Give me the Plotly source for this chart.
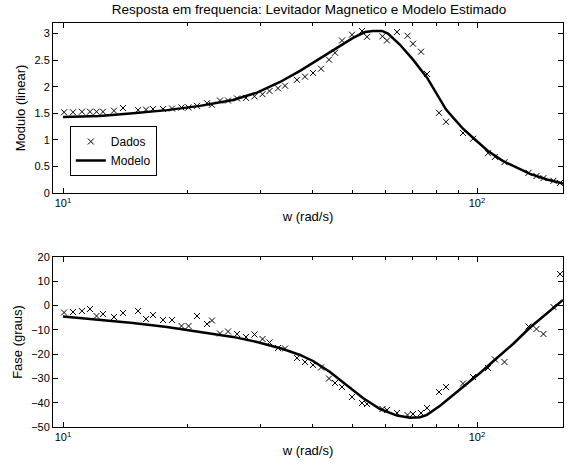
import plotly.graph_objects as go

# Frequencies of the measured points (rad/s)
w_dados = [10.06, 10.57, 11.11, 11.62, 12.05, 12.49, 13.28, 13.96, 15.18, 15.87,
           16.50, 17.44, 18.34, 19.33, 20.10, 21.07, 22.28, 22.90, 23.94, 25.04,
           26.33, 27.67, 29.01, 30.33, 31.54, 33.06, 34.38, 36.74, 38.41, 40.17,
           42.00, 43.91, 45.40, 47.20, 49.90, 52.76, 54.25, 59.11, 60.61, 64.10,
           67.94, 70.05, 73.24, 75.73, 80.95, 84.17, 92.52, 97.80, 106.3, 110.5,
           116.5, 133.2, 139.2, 144.7, 153.0, 158.7]

mod_dados = [1.52, 1.52, 1.53, 1.53, 1.53, 1.53, 1.55, 1.60, 1.56, 1.57,
             1.58, 1.58, 1.59, 1.61, 1.61, 1.64, 1.69, 1.66, 1.74, 1.74,
             1.78, 1.79, 1.82, 1.86, 1.92, 1.97, 2.02, 2.13, 2.19, 2.26,
             2.34, 2.51, 2.64, 2.87, 2.98, 3.05, 2.94, 2.95, 2.87, 3.03,
             2.96, 2.81, 2.66, 2.24, 1.51, 1.34, 1.13, 1.02, 0.75, 0.68,
             0.58, 0.38, 0.32, 0.28, 0.23, 0.19]

fase_dados = [-2.85, -2.65, -2.24, -1.41, -4.29, -3.47, -4.71, -3.06, -2.24, -5.53,
              -3.88, -5.94, -5.94, -8.41, -8.41, -4.29, -7.59, -6.15, -11.50, -10.68,
              -11.71, -12.94, -11.91, -13.76, -15.21, -17.47, -17.68, -21.59, -23.24, -24.47,
              -25.50, -30.03, -31.88, -33.53, -37.65, -40.12, -40.53, -42.59, -43.00, -44.24,
              -45.06, -44.65, -44.24, -42.18, -35.59, -33.53, -32.09, -29.41, -25.71, -22.21,
              -23.24, -8.62, -9.65, -11.71, -0.59, 13.0]

# Estimated model
w_mod_mag = [10.0, 12.28, 14.76, 17.83, 21.42, 25.74, 29.42, 33.44, 37.36, 41.77,
             45.90, 50.18, 53.63, 56.07, 58.94, 60.95, 65.17, 70.05, 75.73, 80.0,
             84.2, 88.0, 92.52, 97.80, 106.3, 115.6, 134.3, 147.6, 161.3]
mod_modelo = [1.43, 1.45, 1.50, 1.56, 1.64, 1.75, 1.89, 2.09, 2.30, 2.53,
              2.74, 2.92, 3.03, 3.05, 3.05, 3.00, 2.79, 2.51, 2.17, 1.85,
              1.57, 1.40, 1.21, 1.04, 0.79, 0.60, 0.36, 0.255, 0.18]

w_mod_fase = [10.0, 12.28, 14.76, 17.83, 21.42, 25.74, 29.42, 34.0, 37.36, 40.17,
              44.15, 48.53, 53.03, 58.32, 64.10, 68.90, 72.84, 75.70, 78.31, 81.40,
              84.64, 92.52, 101.7, 111.7, 122.2, 134.3, 147.6, 161.3]
fase_modelo = [-4.50, -5.94, -7.18, -8.82, -10.88, -12.90, -15.00, -17.90, -20.35, -22.82,
               -27.35, -32.71, -38.06, -42.59, -45.30, -46.20, -46.00, -45.00, -43.40, -41.30,
               -38.90, -33.53, -27.76, -21.59, -15.82, -9.03, -3.26, 2.29]

x_tickvals = [10, 100]
x_ticktext = ["10<sup>1</sup>", "10<sup>2</sup>"]
x_minor = [20, 30, 40, 50, 60, 70, 80, 90]
mod_ticks = [0, 0.5, 1, 1.5, 2, 2.5, 3]
mod_ticktext = ["0", "0.5", "1", "1.5", "2", "2.5", "3"]
fase_ticks = [-50, -40, -30, -20, -10, 0, 10, 20]

FONT = "Liberation Sans, Arial, Helvetica, sans-serif"

fig = go.Figure()
marker = dict(symbol="x-thin", size=6, color="black", line=dict(width=1, color="black"))
fig.add_trace(go.Scatter(x=w_dados, y=mod_dados, mode="markers", marker=marker,
                         name="Dados", xaxis="x", yaxis="y", cliponaxis=False))
fig.add_trace(go.Scatter(x=w_mod_mag, y=mod_modelo, mode="lines",
                         line=dict(color="black", width=2.5), name="Modelo",
                         xaxis="x", yaxis="y"))
fig.add_trace(go.Scatter(x=w_dados, y=fase_dados, mode="markers", marker=marker,
                         name="Dados", showlegend=False, xaxis="x2", yaxis="y2",
                         cliponaxis=False))
fig.add_trace(go.Scatter(x=w_mod_fase, y=fase_modelo, mode="lines",
                         line=dict(color="black", width=2.5), name="Modelo",
                         showlegend=False, xaxis="x2", yaxis="y2"))

xr = [0.97585, 2.2077]
common_x = dict(type="log", range=xr, showline=True, linecolor="black", linewidth=1,
                mirror="ticks", ticks="inside", ticklen=5, tickcolor="black",
                tickvals=x_tickvals, ticktext=x_ticktext, showgrid=False, zeroline=False,
                automargin=False,
                tickfont=dict(size=11, color="black", family=FONT),
                minor=dict(ticks="inside", ticklen=3, tickcolor="black", tickvals=x_minor,
                           showgrid=False))
common_y = dict(showline=True, linecolor="black", linewidth=1, mirror="ticks",
                ticks="inside", ticklen=5, tickcolor="black", showgrid=False,
                zeroline=False, automargin=False,
                tickfont=dict(size=11, color="black", family=FONT))

fig.update_layout(
    width=567, height=470,
    margin=dict(l=53, r=4, t=23, b=43),
    paper_bgcolor="white", plot_bgcolor="white",
    font=dict(family=FONT, color="black", size=13),
    title=dict(text="Resposta em frequencia: Levitador Magnetico e Modelo Estimado",
               x=0.545, xanchor="center", y=0.99, yanchor="top",
               font=dict(size=13.5, family=FONT, color="black")),
    xaxis=dict(common_x, domain=[0, 1], anchor="y",
               title=dict(text="w (rad/s)", standoff=3, font=dict(size=13))),
    yaxis=dict(common_y, domain=[0.5792, 1], anchor="x", range=[0, 3.2],
               tickvals=mod_ticks, ticktext=mod_ticktext,
               title=dict(text="Modulo (linear)", standoff=5, font=dict(size=13))),
    xaxis2=dict(common_x, domain=[0, 1], anchor="y2",
                title=dict(text="w (rad/s)", standoff=3, font=dict(size=13))),
    yaxis2=dict(common_y, domain=[0, 0.4208], anchor="x2", range=[-50, 20],
                tickvals=fase_ticks,
                title=dict(text="Fase (graus)", standoff=5, font=dict(size=13))),
    legend=dict(x=0.033, y=0.745, xanchor="left", yanchor="top",
                bordercolor="black", borderwidth=1, bgcolor="white",
                font=dict(size=12, family=FONT, color="black"),
                tracegroupgap=0, itemwidth=30),
    showlegend=True,
)

fig.write_html("out.html", config={"displayModeBar": False},
               post_script="document.body.style.margin='0';document.body.style.padding='0';")
